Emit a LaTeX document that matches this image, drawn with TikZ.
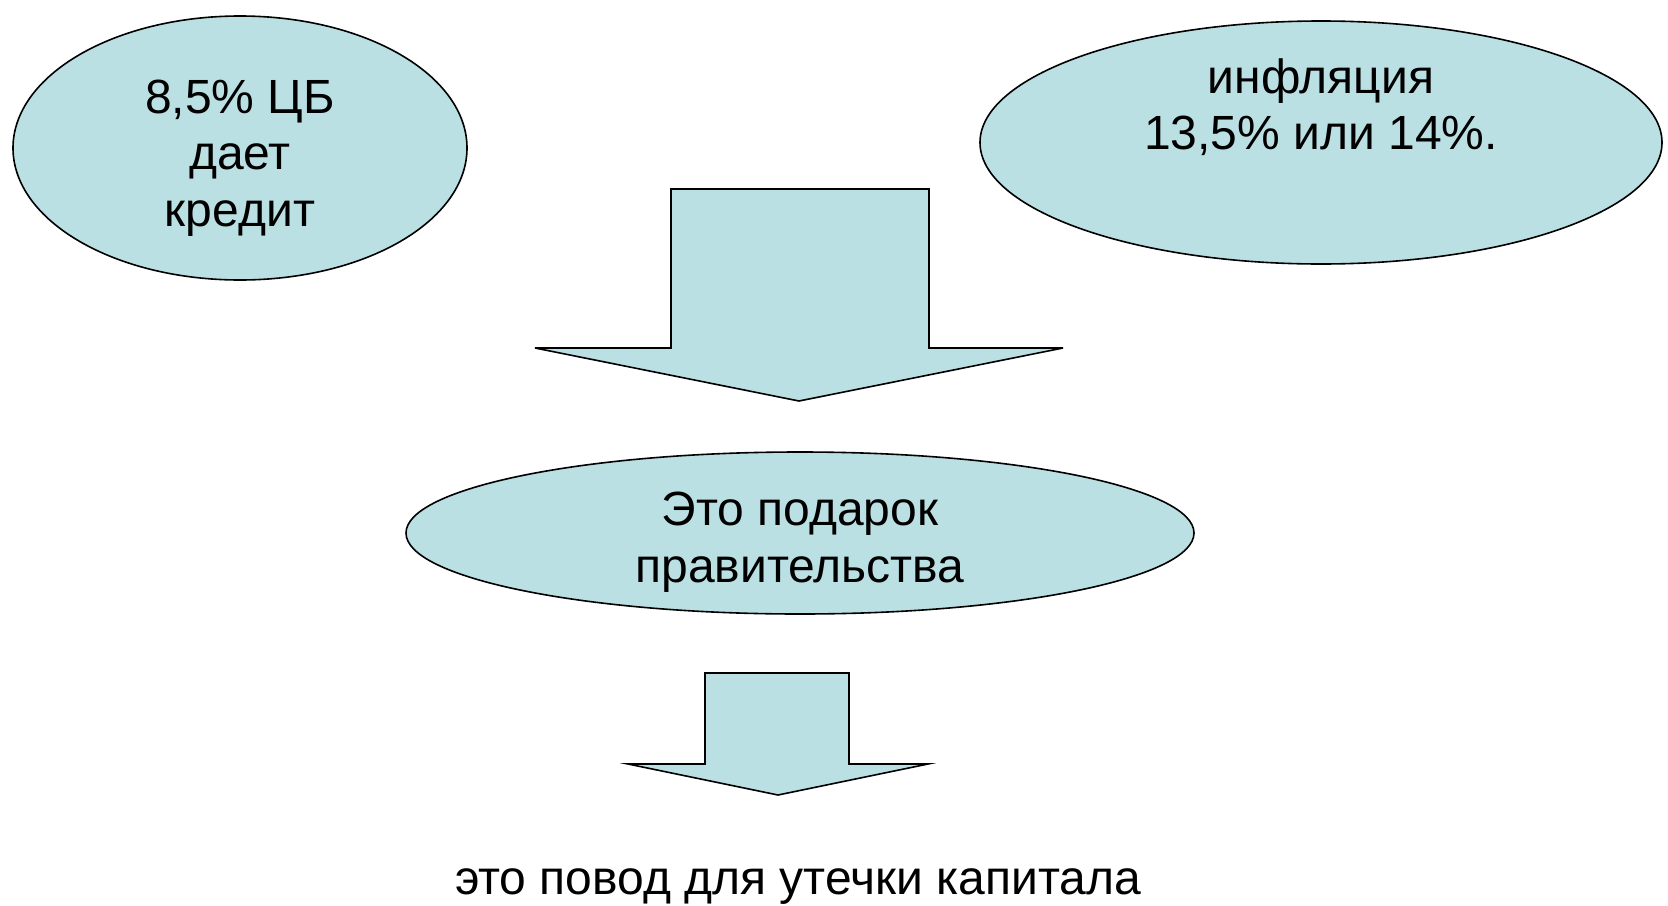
\documentclass[tikz,border=0pt]{standalone}
\usepackage{fontspec}
\setmainfont{Liberation Sans}
\usetikzlibrary{shapes.geometric}
\definecolor{fillblue}{RGB}{187,224,227}
\begin{document}
\begin{tikzpicture}[x=1pt,y=-1pt,
  blob/.style={ellipse, draw=black, line width=1.6pt, fill=fillblue, inner sep=0pt},
  blockarrow/.style={draw=black, line width=1.6pt, fill=fillblue, line join=miter},
  txt/.style={font=\fontsize{48}{56.5}\selectfont, align=center, inner sep=0pt}]
\useasboundingbox (0,0) rectangle (1668,905);
\fill[white] (0,0) rectangle (1668,905);
% ellipses
\node[blob, minimum width=454pt, minimum height=264pt] (cb) at (240,148) {};
\node[blob, minimum width=682pt, minimum height=243pt] (infl) at (1321,142.5) {};
\node[blob, minimum width=788pt, minimum height=162pt] (gift) at (800,533) {};
% texts
\node[txt] (cbtext) at (240,158) {8,5\% ЦБ\\дает\\кредит};
\node[txt] (infltext) at (1321,107) {инфляция\\13,5\% или 14\%.};
\node[txt] (gifttext) at (800,542) {Это подарок\\правительства};
\node[txt] (leak) at (798,887) {это повод для утечки капитала};
% big block arrow
\draw[blockarrow] (671,189) -- (929,189) -- (929,348) -- (1063,348) -- (799,401)
  -- (535,348) -- (671,348) -- cycle;
% small block arrow
\draw[blockarrow] (705,673) -- (849,673) -- (849,764) -- (928,764) -- (778,795)
  -- (628,764) -- (705,764) -- cycle;
\end{tikzpicture}
\end{document}
